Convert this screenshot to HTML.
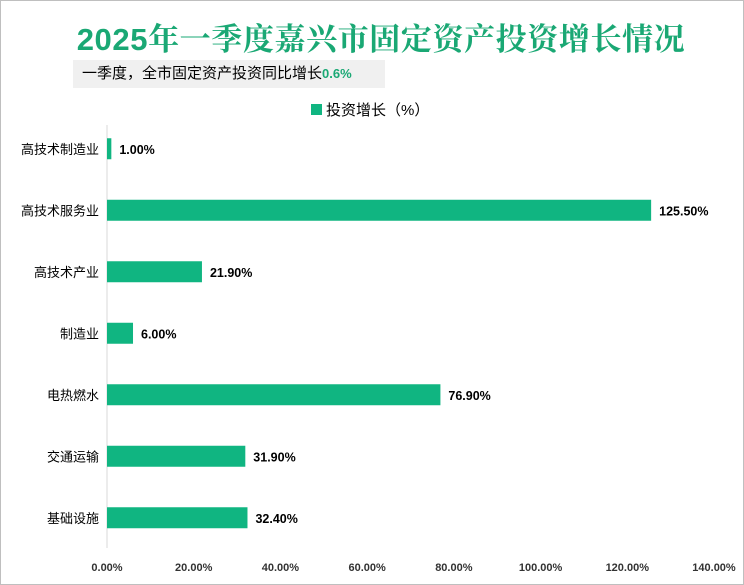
<!DOCTYPE html>
<html><head><meta charset="utf-8"><style>
body{margin:0;width:744px;height:585px;overflow:hidden;background:#fff;font-family:"Liberation Sans","Noto Sans CJK SC",sans-serif;}
#frame{position:absolute;left:0;top:0;width:742px;height:583px;border:1px solid #bfbfbf;}
#title{position:absolute;left:0;width:762px;top:14px;text-align:center;font-size:31px;font-weight:bold;color:#1aa874;font-family:"Liberation Sans","Noto Serif CJK SC",serif;letter-spacing:0.6px;}
#sub{position:absolute;left:73px;top:60px;width:312px;height:28px;background:#f0f0f0;font-size:15px;line-height:28px;padding-left:9px;box-sizing:border-box;color:#000;}
#sub span{color:#1aa874;font-weight:bold;font-size:13px;}
</style></head><body>
<div id="frame"></div>
<div id="title">2025年一季度嘉兴市固定资产投资增长情况</div>
<div id="sub">一季度，全市固定资产投资同比增长<span>0.6%</span></div>
<svg id="chart" width="744" height="585" style="position:absolute;left:0;top:0">
<rect x="311" y="104" width="11" height="11" fill="#10b581"/>
<text x="326" y="115" font-size="15" fill="#000">投资增长（%）</text>
<g id="plot"></g>
</svg>
<script>
const categories=["高技术制造业","高技术服务业","高技术产业","制造业","电热燃水","交通运输","基础设施"];
const values=[1.0,125.5,21.9,6.0,76.9,31.9,32.4];
const ticks=[0,20,40,60,80,100,120,140];
const x0=107,x1=714,maxV=140;
const xs=v=>x0+(x1-x0)*v/maxV;
const yTop=118,step=61.5,bh=21;
const ys=i=>yTop+step*i+step/2;
const g=document.getElementById('plot');
const NS='http://www.w3.org/2000/svg';
function mk(t,a){const e=document.createElementNS(NS,t);for(const k in a)e.setAttribute(k,a[k]);g.appendChild(e);return e;}
const ax=mk('line',{x1:x0,y1:125,x2:x0,y2:548,stroke:'#d9d9d9'});


categories.forEach((c,i)=>{
 const y=ys(i);
 const r=mk('rect',{x:x0,y:y-bh/2,width:xs(values[i])-x0,height:bh,fill:'#10b581'});
 
 
 const l=mk('text',{x:x0-8,y:y+5,'text-anchor':'end','font-size':13,fill:'#000'});
 l.textContent=c;
 
 
 const v=mk('text',{x:xs(values[i])+8,y:y+5,'font-size':12.5,'font-weight':'bold',fill:'#000'});
 v.textContent=values[i].toFixed(2)+'%';
 
 
});
ticks.forEach(t=>{
 const e=mk('text',{x:xs(t),y:571,'text-anchor':'middle','font-size':11,'font-weight':'bold',fill:'#333'});
 e.textContent=t.toFixed(2)+'%';
 
 
});
</script>
</body></html>
